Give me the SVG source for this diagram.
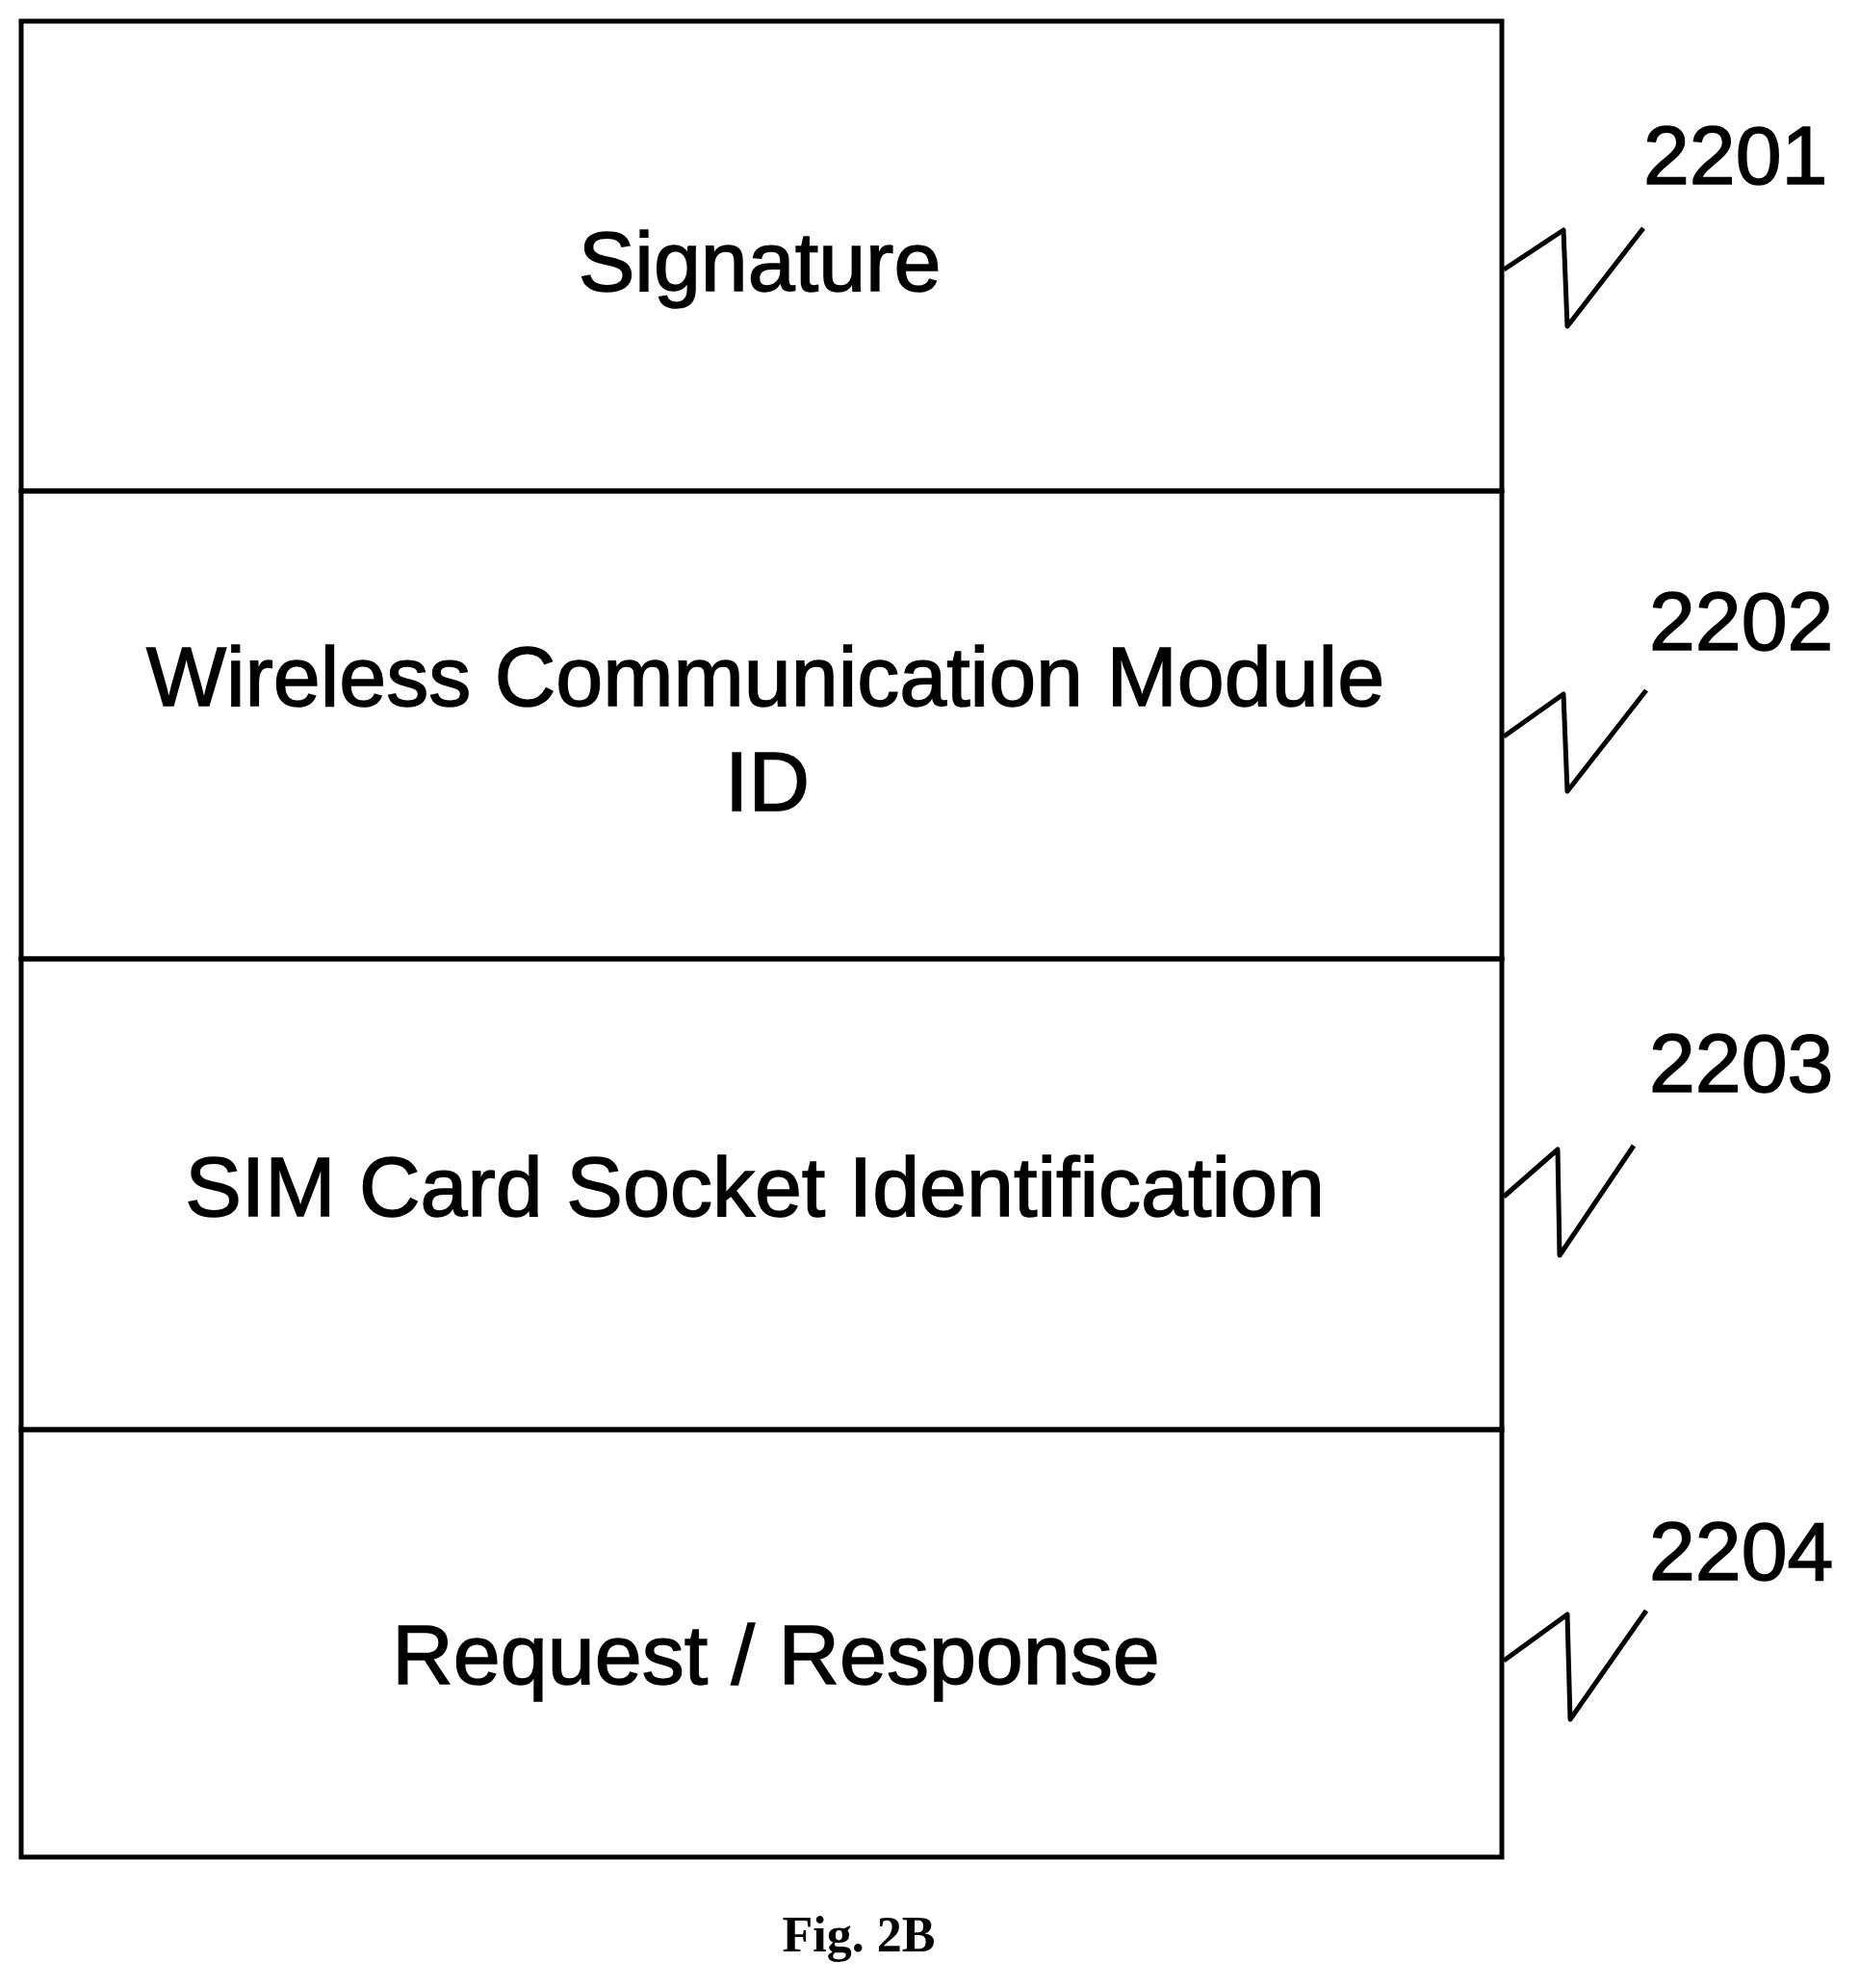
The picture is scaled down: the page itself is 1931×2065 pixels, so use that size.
<svg xmlns="http://www.w3.org/2000/svg" width="1931" height="2065" viewBox="0 0 1931 2065">
<style>
.t{font-family:"Liberation Sans",Arial,sans-serif;font-size:88px;fill:#000;stroke:#000;stroke-width:1.5;text-anchor:middle}
.n{font-family:"Liberation Sans",Arial,sans-serif;font-size:86px;fill:#000;stroke:#000;stroke-width:1.5}
.b{fill:none;stroke:#000;stroke-width:5}
.s{fill:none;stroke:#000;stroke-width:5;stroke-linejoin:round}
</style>
<rect width="1931" height="2065" fill="#fff"/>
<g id="n2201"><rect class="b" x="22" y="22" width="1538" height="488"/><text class="t" x="789" y="302">Signature</text></g>
<g id="n2202"><rect class="b" x="22" y="510" width="1538" height="486"/><text class="t" x="795" y="733">Wireless Communication Module</text><text class="t" x="797" y="842">ID</text></g>
<g id="n2203"><rect class="b" x="22" y="996" width="1538" height="489"/><text class="t" x="784" y="1263">SIM Card Socket Identification</text></g>
<g id="n2204"><rect class="b" x="22" y="1485" width="1538" height="444"/><text class="t" x="806" y="1749">Request / Response</text></g>
<g id="connectors">
<path class="s" d="M1562,280 L1624,239 L1628,339 L1707,237"/>
<path class="s" d="M1562,765 L1624,721 L1628,822 L1710,717"/>
<path class="s" d="M1562,1243 L1618,1194 L1620,1304 L1697,1190"/>
<path class="s" d="M1562,1725 L1628,1677 L1631,1786 L1710,1673"/>
</g>
<g id="labels">
<text class="n" x="1707" y="191">2201</text>
<text class="n" x="1713" y="675">2202</text>
<text class="n" x="1713" y="1134">2203</text>
<text class="n" x="1713" y="1641">2204</text>
<text x="892" y="2027" text-anchor="middle" style="font-family:'Liberation Serif','Times New Roman',serif;font-weight:bold;font-size:52px">Fig. 2B</text>
</g>
</svg>
